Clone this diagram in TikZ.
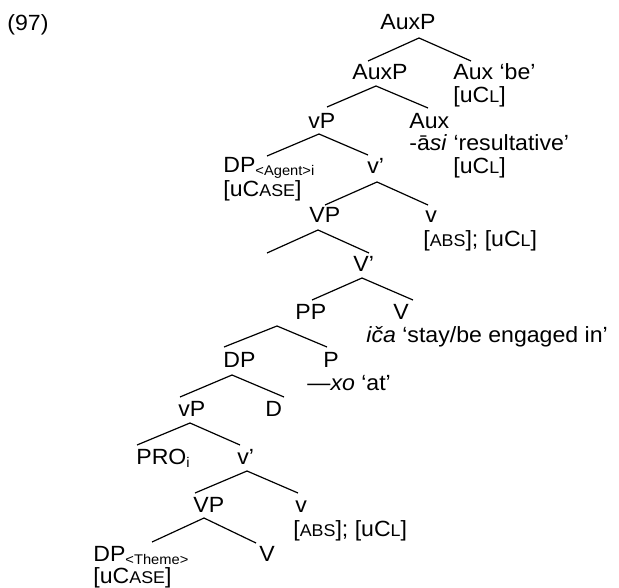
\documentclass[tikz,border=0pt]{standalone}
\usepackage{fontspec}
\setmainfont{Liberation Sans}[FakeStretch=1.05]

\newcommand{\smc}[1]{{\fontsize{8.5}{8.5}\selectfont #1}}
\newcommand{\lsub}[1]{\raisebox{-1.5pt}{\fontsize{7}{7}\selectfont #1}}

\tikzset{
  lbl/.style={anchor=base west,inner sep=0pt,font=\fontsize{11}{13}\selectfont},
  br/.style={line width=0.6pt},
}

\begin{document}
\begin{tikzpicture}[x=0.5pt,y=-0.5pt]
  \useasboundingbox (0,0) rectangle (619,587);

  \node[lbl] (ex) at (7,31) {(97)};

  \node[lbl] (auxp) at (380,30) {AuxP};
  \node[lbl] (auxp2) at (352,80) {AuxP};
  \node[lbl] (auxbe) at (453,80) {Aux ‘be’};
  \node[lbl] (auxbe-f) at (453,103) {[uC\smc{L}]};
  \node[lbl] (vp) at (308,129) {vP};
  \node[lbl] (auxasi) at (409,129) {Aux};
  \node[lbl] (auxasi-g) at (409,151) {-ā\textit{si} ‘resultative’};
  \node[lbl] (auxasi-f) at (453,174) {[uC\smc{L}]};
  \node[lbl] (agent) at (223,173) {DP\lsub{<Agent>i}};
  \node[lbl] (agent-f) at (223,197) {[uC\smc{ASE}]};
  \node[lbl] (vbar) at (367,174) {v’};
  \node[lbl] (VP) at (309,222) {VP};
  \node[lbl] (v) at (425,222) {v};
  \node[lbl] (v-f) at (423,246) {[\smc{ABS}]; [uC\smc{L}]};
  \node[lbl] (Vbar) at (353,271) {V’};
  \node[lbl] (pp) at (295,319) {PP};
  \node[lbl] (V) at (393,319) {V};
  \node[lbl] (V-g) at (366,342) {\textit{iča} ‘stay/be engaged in’};
  \node[lbl] (dp) at (223,367) {DP};
  \node[lbl] (p) at (323,367) {P};
  \node[lbl] (p-g) at (307,390) {—\textit{xo} ‘at’};
  \node[lbl] (vp2) at (178,416) {vP};
  \node[lbl] (d) at (265,416) {D};
  \node[lbl] (pro) at (136,464) {PRO\lsub{i}};
  \node[lbl] (vbar2) at (237,464) {v’};
  \node[lbl] (VP2) at (193,512) {VP};
  \node[lbl] (v2) at (295,512) {v};
  \node[lbl] (v2-f) at (293,536) {[\smc{ABS}]; [uC\smc{L}]};
  \node[lbl] (theme) at (93,561) {DP\lsub{<Theme>}};
  \node[lbl] (V2) at (259,561) {V};
  \node[lbl] (theme-f) at (93,583) {[uC\smc{ASE}]};
  \coordinate (spec) at (267,253);

  \draw[br] ([shift={(39,8)}]auxp.base west) -- ([shift={(16,-19)}]auxp2.base west);
  \draw[br] ([shift={(39,8)}]auxp.base west) -- ([shift={(18,-19)}]auxbe.base west);
  \draw[br] ([shift={(24,6)}]auxp2.base west) -- ([shift={(19,-22)}]vp.base west);
  \draw[br] ([shift={(24,6)}]auxp2.base west) -- ([shift={(19,-21)}]auxasi.base west);
  \draw[br] ([shift={(11,5)}]vp.base west) -- ([shift={(44,-17)}]agent.base west);
  \draw[br] ([shift={(11,5)}]vp.base west) -- ([shift={(1,-19)}]vbar.base west);
  \draw[br] ([shift={(10,8)}]vbar.base west) -- ([shift={(16,-17)}]VP.base west);
  \draw[br] ([shift={(10,8)}]vbar.base west) -- ([shift={(3,-17)}]v.base west);
  \draw[br] ([shift={(9,8)}]VP.base west) -- (spec);
  \draw[br] ([shift={(9,8)}]VP.base west) -- ([shift={(16,-18)}]Vbar.base west);
  \draw[br] ([shift={(9,7)}]Vbar.base west) -- ([shift={(17,-19)}]pp.base west);
  \draw[br] ([shift={(9,7)}]Vbar.base west) -- ([shift={(20,-19)}]V.base west);
  \draw[br] ([shift={(-18,7)}]pp.base west) -- ([shift={(1,-20)}]dp.base west);
  \draw[br] ([shift={(-18,7)}]pp.base west) -- ([shift={(4,-20)}]p.base west);
  \draw[br] ([shift={(9,8)}]dp.base west) -- ([shift={(2,-19)}]vp2.base west);
  \draw[br] ([shift={(9,8)}]dp.base west) -- ([shift={(19,-19)}]d.base west);
  \draw[br] ([shift={(12,7)}]vp2.base west) -- ([shift={(1,-19)}]pro.base west);
  \draw[br] ([shift={(12,7)}]vp2.base west) -- ([shift={(3,-19)}]vbar2.base west);
  \draw[br] ([shift={(10,7)}]vbar2.base west) -- ([shift={(2,-19)}]VP2.base west);
  \draw[br] ([shift={(10,7)}]vbar2.base west) -- ([shift={(3,-19)}]v2.base west);
  \draw[br] ([shift={(11,6)}]VP2.base west) -- ([shift={(59,-19)}]theme.base west);
  \draw[br] ([shift={(11,6)}]VP2.base west) -- ([shift={(-3,-18)}]V2.base west);
\end{tikzpicture}
\end{document}
